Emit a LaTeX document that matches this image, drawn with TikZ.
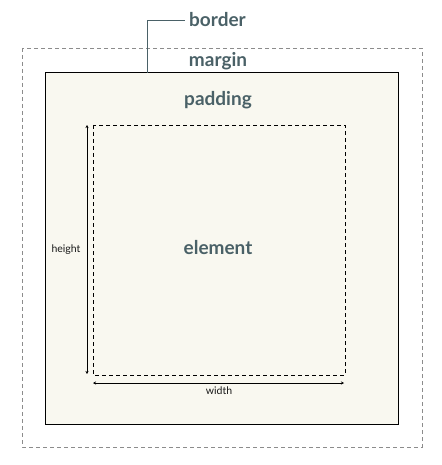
\documentclass[tikz,border=0pt]{standalone}
\usepackage{fontspec}
\setmainfont{Lato}
\usetikzlibrary{arrows.meta}
\definecolor{lab}{HTML}{4A6167}
\definecolor{cream}{HTML}{F9F8F0}
\definecolor{mgray}{HTML}{8C8C8C}
\begin{document}
\begin{tikzpicture}[x=1pt,y=-1pt,
  biglabel/.style={text=lab,font=\fontsize{19}{22}\selectfont\bfseries,inner sep=0pt},
  smalllabel/.style={text=black!90,font=\fontsize{10.5}{12}\selectfont,inner sep=0pt},
  dim/.style={line width=0.9pt,{Stealth[length=3pt,width=3pt]}-{Stealth[length=3pt,width=3pt]}}]
\useasboundingbox (0,0) rectangle (441,465);
\draw[mgray,dashed,dash pattern=on 4pt off 3pt,line width=0.8pt] (22,48) rectangle (422,447);
\draw[black,fill=cream,line width=1pt] (45.5,73) rectangle (398,424);
\draw[black,dashed,dash pattern=on 4pt off 3pt,line width=0.9pt] (93,125) rectangle (345,375);
\coordinate (hA) at (87,125);
\coordinate (hB) at (87,374);
\coordinate (wA) at (93,383);
\coordinate (wB) at (344,383);
\draw[dim] (hB) -- (hA);
\draw[dim] (wA) -- (wB);
\node[smalllabel] (hl) at (66,250) {height};
\node[smalllabel] (wl) at (219,391) {width};
\node[biglabel] (el) at (218,248) {element};
\node[biglabel] (pad) at (218,100) {padding};
\node[biglabel] (mar) at (218,61) {margin};
\node[biglabel,anchor=west] (bor) at (189,20) {border};
\coordinate (b0) at (147,73);
\coordinate (b1) at (147,21);
\coordinate (b2) at (185,21);
\draw[lab,line width=1pt] (b0) -- (b1) -- (b2);
\end{tikzpicture}
\end{document}
